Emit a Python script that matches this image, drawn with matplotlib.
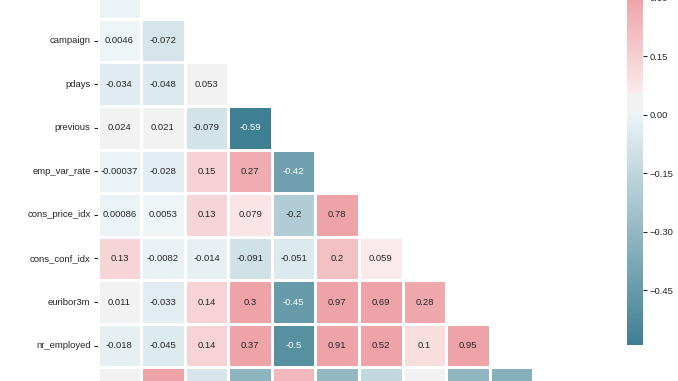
import colorsys
import numpy as np
import pandas as pd
import matplotlib
matplotlib.use("Agg")
import matplotlib.pyplot as plt
from matplotlib.colors import LinearSegmentedColormap
import seaborn as sns
from seaborn.external import husl

sns.set_theme(style="ticks")
plt.rcParams['font.family'] = ['Liberation Sans', 'DejaVu Sans']
plt.rcParams['text.color'] = '.15'
plt.rcParams['axes.labelcolor'] = '.15'
plt.rcParams['xtick.color'] = '.15'
plt.rcParams['ytick.color'] = '.15'

variables = ["age", "duration", "campaign", "pdays", "previous", "emp_var_rate",
             "cons_price_idx", "cons_conf_idx", "euribor3m", "nr_employed", "y"]

# lower-triangle correlations (row i, columns 0..i-1)
row_duration = [-0.00087]
row_campaign = [0.0046, -0.072]
row_pdays = [-0.034, -0.048, 0.053]
row_previous = [0.024, 0.021, -0.079, -0.59]
row_emp_var_rate = [-0.00037, -0.028, 0.15, 0.27, -0.42]
row_cons_price_idx = [0.00086, 0.0053, 0.13, 0.079, -0.2, 0.78]
row_cons_conf_idx = [0.13, -0.0082, -0.014, -0.091, -0.051, 0.2, 0.059]
row_euribor3m = [0.011, -0.033, 0.14, 0.3, -0.45, 0.97, 0.69, 0.28]
row_nr_employed = [-0.018, -0.045, 0.14, 0.37, -0.5, 0.91, 0.52, 0.1, 0.95]
row_y = [0.03, 0.41, -0.066, -0.32, 0.23, -0.3, -0.14, 0.055, -0.31, -0.35]

lower_rows = [[], row_duration, row_campaign, row_pdays, row_previous,
              row_emp_var_rate, row_cons_price_idx, row_cons_conf_idx,
              row_euribor3m, row_nr_employed, row_y]

n = len(variables)
mat = np.eye(n)
for i, row in enumerate(lower_rows):
    for j, v in enumerate(row):
        mat[i, j] = v
        mat[j, i] = v
corr = pd.DataFrame(mat, index=variables, columns=variables)
mask = np.triu(np.ones_like(mat, dtype=bool))

# classic (older seaborn) diverging palette 220 -> 10 with light tinted ends
def _light(rgb):
    h, l, s = colorsys.rgb_to_hls(*rgb)
    return colorsys.hls_to_rgb(h, 0.95, s)

neg_c = tuple(np.clip(husl.husl_to_rgb(220, 75, 50), 0, 1))
pos_c = tuple(np.clip(husl.husl_to_rgb(10, 75, 50), 0, 1))
grey = (0.95, 0.95, 0.95)
cmap = LinearSegmentedColormap.from_list(
    "div", [(0.0, neg_c), (122 / 255, _light(neg_c)), (123 / 255, grey),
            (132 / 255, grey), (133 / 255, _light(pos_c)), (1.0, pos_c)], N=256)

W, H = 678, 381
fig = plt.figure(figsize=(W / 100, H / 100), dpi=100)
fig.patch.set_facecolor('white')

left_px, right_px = 97.5, 577.0
top_px, bot_px = -68.4, 411.0
ax = fig.add_axes([left_px / W, 1 - bot_px / H, (right_px - left_px) / W, (bot_px - top_px) / H])

cb_left, cb_right, cb_top, cb_bot = 627.0, 643.0, -2.0, 345.0
cax = fig.add_axes([cb_left / W, 1 - cb_bot / H, (cb_right - cb_left) / W, (cb_bot - cb_top) / H])

sns.heatmap(corr, mask=mask, cmap=cmap, vmax=0.3, center=0.034, square=True,
            linewidths=1, linecolor='white', annot=True,
            annot_kws={"size": 6.8}, ax=ax, cbar_ax=cax)

ax.tick_params(axis='both', labelsize=6.8, length=3, width=0.8, pad=2)
ax.set_xticklabels(ax.get_xticklabels(), rotation=90)
ax.set_yticklabels(ax.get_yticklabels(), rotation=0)

cax.set_yticks([-0.45, -0.30, -0.15, 0.0, 0.15, 0.30])
cax.tick_params(labelsize=6.8, length=3, width=0.8, pad=2)

fig.savefig("out.png", dpi=100)
